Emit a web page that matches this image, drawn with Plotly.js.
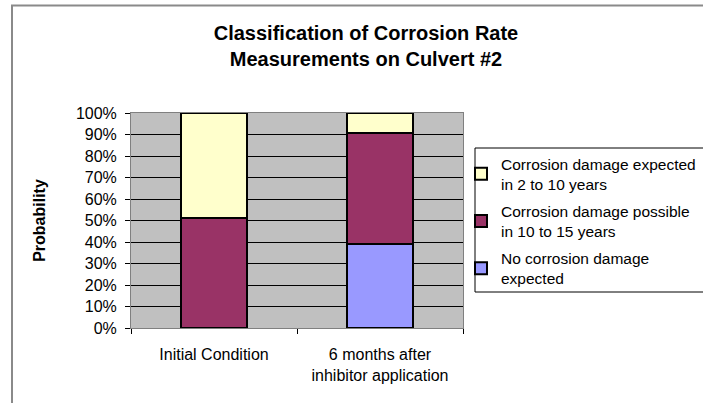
<!DOCTYPE html>
<html>
<head>
<meta charset="utf-8">
<script src="https://cdn.plot.ly/plotly-3.0.1.min.js"></script>
<style>html,body{margin:0;padding:0;background:#fff;overflow:hidden;}#chart{width:703px;height:403px;}</style>
</head>
<body>
<div id="chart"></div>
<script>
var categories = ["Initial Condition", "6 months after<br>inhibitor application"];
var seriesNames = [
  "No corrosion damage<br>expected",
  "Corrosion damage possible<br>in 10 to 15 years",
  "Corrosion damage expected<br>in 2 to 10 years"
];
var noDamage = [0, 39];
var possible10to15 = [51, 51.5];
var expected2to10 = [49, 9.5];
var seriesColors = ["#9999FF", "#993366", "#FFFFCC"];
var yTickVals = [0, 10, 20, 30, 40, 50, 60, 70, 80, 90, 100];
var yTickText = ["0%", "10%", "20%", "30%", "40%", "50%", "60%", "70%", "80%", "90%", "100%"];

var seriesValues = [noDamage, possible10to15, expected2to10];
var font = "Arial, 'Liberation Sans', sans-serif";

var traces = seriesValues.map(function (vals, i) {
  return {
    type: "bar",
    name: seriesNames[i],
    x: categories,
    y: vals,
    width: 0.4,
    legendgroup: "g" + i,
    legendrank: 10 - i,
    marker: { color: seriesColors[i], line: { color: "#000", width: 2 } },
    hoverinfo: "none"
  };
});

var W = 703, H = 403, L = 131, R = 240, T = 113, B = 75;
var pw = W - L - R, ph = H - T - B;
function px(x) { return (x - L) / pw; }
function py(y) { return (H - B - y) / ph; }

var layout = {
  width: W, height: H,
  margin: { l: L, r: R, t: T, b: B, pad: 0, autoexpand: false },
  paper_bgcolor: "#fff",
  plot_bgcolor: "#C0C0C0",
  barmode: "stack",
  font: { family: font, color: "#000", size: 16 },
  title: {
    text: "<b>Classification of Corrosion Rate<br>Measurements on Culvert #2</b>",
    font: { family: font, size: 20, color: "#000" },
    x: 366 / W, xref: "container", xanchor: "center",
    y: 1 - 40 / H, yref: "container", yanchor: "middle"
  },
  xaxis: {
    type: "category",
    tickson: "boundaries",
    ticks: "outside", ticklen: 5, tickcolor: "#000",
    ticklabelstandoff: 12,
    showgrid: false,
    showline: true, linecolor: "#808080", linewidth: 1, mirror: true,
    tickfont: { family: font, size: 16 },
    zeroline: false
  },
  yaxis: {
    range: [0, 100],
    tickvals: yTickVals, ticktext: yTickText,
    ticks: "outside", ticklen: 5, tickcolor: "#000",
    ticklabelstandoff: 5,
    showgrid: true, gridcolor: "#000", gridwidth: 1,
    showline: true, linecolor: "#808080", linewidth: 1, mirror: true,
    zeroline: false,
    tickfont: { family: font, size: 16 },
    title: { text: "<b>Probability</b>", font: { family: font, size: 16 }, standoff: 26 }
  },
  showlegend: true,
  legend: {
    x: px(461), xanchor: "left", xref: "paper",
    y: py(147), yanchor: "top", yref: "paper",
    traceorder: "grouped",
    tracegroupgap: 4,
    bgcolor: "rgba(0,0,0,0)", borderwidth: 0,
    font: { family: font, size: 15.5, color: "#000" }
  },
  shapes: [
    { type: "rect", xref: "paper", yref: "paper",
      x0: px(475), x1: px(710), y0: py(292), y1: py(148),
      line: { color: "#000", width: 1 }, fillcolor: "rgba(0,0,0,0)" },
    { type: "path", xref: "paper", yref: "paper",
      path: "M " + px(12) + " " + py(403) + " L " + px(12) + " " + py(5.5) + " L " + px(703) + " " + py(5.5),
      line: { color: "#8a8a8a", width: 2 } }
  ]
};

Plotly.newPlot("chart", traces, layout, { displayModeBar: false, staticPlot: true });
</script>
</body>
</html>
